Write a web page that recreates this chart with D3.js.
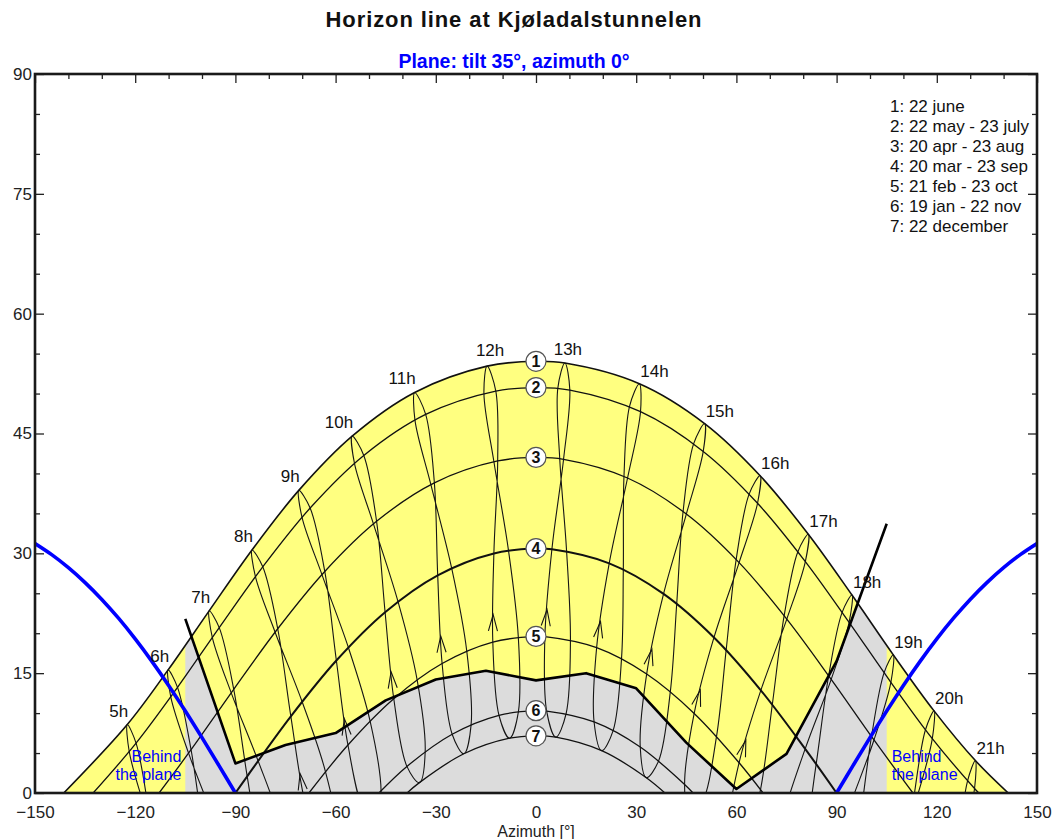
<!DOCTYPE html>
<html>
<head>
<meta charset="utf-8">
<script src="https://cdn.jsdelivr.net/npm/d3@7"></script>
<style>
body { margin: 0; background: #fff; }
text { font-family: "Liberation Sans", Arial, sans-serif; }
</style>
</head>
<body>
<div id="chart"></div>
<script>
// hours shown on the hour lines
const hours = [5, 6, 7, 8, 9, 10, 11, 12, 13, 14, 15, 16, 17, 18, 19, 20, 21];

// sun position [azimuth, elevation] for each hour 5h..21h, null = not drawn
const dec22 = [null, null, null, [-60.12, -9.90], [-47.71, -3.73], [-34.91, 1.30], [-21.61, 4.91], [-7.92, 6.86], [5.93, 6.99], [19.66, 5.30], [33.03, 1.92], [45.90, -2.93], [58.35, -8.95], null, null, null, null];
const jan19 = [null, null, [-76.56, -15.71], [-64.18, -8.53], [-51.62, -2.07], [-38.65, 3.33], [-25.10, 7.36], [-11.08, 9.73], [3.19, 10.25], [17.39, 8.89], [31.21, 5.75], [44.49, 1.07], [57.27, -4.85], [69.71, -11.67], null, null, null];
const feb21 = [null, [-95.07, -15.78], [-82.18, -8.16], [-69.39, -0.78], [-56.30, 6.01], [-42.58, 11.80], [-28.11, 16.21], [-12.93, 18.89], [2.66, 19.57], [18.15, 18.19], [33.13, 14.89], [47.36, 9.96], [60.81, 3.79], [73.76, -3.24], [86.53, -10.75], null, null];
const mar20 = [[-112.68, -12.85], [-99.41, -5.52], [-86.47, 2.09], [-73.40, 9.59], [-59.77, 16.58], [-45.18, 22.63], [-29.43, 27.25], [-12.61, 29.99], [4.76, 30.51], [21.92, 28.75], [38.19, 24.93], [53.29, 19.47], [67.32, 12.85], [80.59, 5.52], [93.53, -2.09], [106.60, -9.59], null];
const apr20 = [[-116.13, -1.76], [-103.28, 5.42], [-90.50, 12.98], [-77.33, 20.56], [-63.24, 27.73], [-47.73, 34.01], [-30.43, 38.82], [-11.47, 41.56], [8.25, 41.77], [27.41, 39.43], [45.01, 34.92], [60.81, 28.84], [75.09, 21.77], [88.38, 14.23], [101.19, 6.64], [114.00, -0.62], [127.19, -7.19]];
const may22 = [[-119.74, 6.24], [-107.33, 13.22], [-94.84, 20.70], [-81.81, 28.31], [-67.62, 35.67], [-51.56, 42.25], [-33.03, 47.39], [-12.03, 50.31], [10.13, 50.44], [31.29, 47.73], [50.07, 42.76], [66.33, 36.27], [80.64, 28.97], [93.74, 21.36], [106.25, 13.86], [118.65, 6.81], [131.30, 0.57]];
const jun22 = [[-122.37, 8.57], [-110.15, 15.41], [-97.86, 22.80], [-85.03, 30.42], [-71.02, 37.88], [-55.05, 44.67], [-36.33, 50.14], [-14.64, 53.43], [8.65, 53.82], [30.95, 51.23], [50.49, 46.24], [67.10, 39.72], [81.53, 32.39], [94.60, 24.78], [106.98, 17.29], [119.18, 10.28], [131.55, 4.06]];
const jul23 = [[-121.78, 5.16], [-109.35, 12.04], [-96.90, 19.46], [-84.00, 27.08], [-70.05, 34.50], [-54.35, 41.25], [-36.24, 46.68], [-15.59, 50.02], [6.52, 50.63], [27.98, 48.36], [47.18, 43.70], [63.81, 37.41], [78.40, 30.20], [91.66, 22.61], [104.23, 15.06], [116.61, 7.92], [129.21, 1.52]];
const aug23 = [[-116.89, -2.15], [-104.02, 4.99], [-91.25, 12.54], [-78.11, 20.13], [-64.09, 27.34], [-48.67, 33.68], [-31.47, 38.60], [-12.60, 41.46], [7.11, 41.83], [26.34, 39.63], [44.04, 35.23], [59.93, 29.22], [74.30, 22.20], [87.62, 14.68], [100.45, 7.07], [113.25, -0.22], [126.41, -6.83]];
const sep23 = [[-109.26, -11.04], [-96.12, -3.61], [-83.19, 4.01], [-70.02, 11.42], [-56.18, 18.22], [-41.31, 23.95], [-25.25, 28.14], [-8.23, 30.34], [9.16, 30.28], [26.14, 27.96], [42.13, 23.68], [56.93, 17.88], [70.74, 11.04], [83.88, 3.61], [96.81, -4.01], [109.98, -11.42], null];
const oct23 = [null, [-88.69, -12.03], [-75.91, -4.48], [-63.02, 2.65], [-49.67, 9.00], [-35.59, 14.16], [-20.73, 17.76], [-5.29, 19.48], [10.31, 19.15], [25.60, 16.79], [40.21, 12.65], [54.04, 7.06], [67.22, 0.42], [80.03, -6.89], [92.87, -14.50], null, null];
const nov22 = [null, null, [-71.51, -12.71], [-59.09, -5.79], [-46.39, 0.28], [-33.18, 5.16], [-19.43, 8.54], [-5.27, 10.17], [9.01, 9.92], [23.09, 7.81], [36.70, 4.01], [49.76, -1.21], [62.38, -7.54], [74.76, -14.63], null, null, null];

const yearOrder = [dec22, jan19, feb21, mar20, apr20, may22, jun22, jul23, aug23, sep23, oct23, nov22];

// date curves 1..7: noon elevation and sunrise/sunset azimuth
const curveDates = [jun22, may22, apr20, mar20, feb21, jan19, dec22];
const curveNoon = [54.04, 50.75, 42.0, 30.6, 19.6, 10.3, 7.16];
const curveRise = [141.39, 132.59, 112.85, 90, 67.98, 47.03, 38.61];
const legendLabels = ["1: 22 june", "2: 22 may - 23 july", "3: 20 apr - 23 aug", "4: 20 mar - 23 sep",
  "5: 21 feb - 23 oct", "6: 19 jan - 22 nov", "7: 22 december"];

// far horizon
const horizonAz = [-105, -90, -75, -60, -45, -30, -15, 0, 15, 30, 45, 60, 75, 90, 105];
const horizonEl = [21.8, 3.7, 6.0, 7.5, 11.6, 14.2, 15.3, 14.1, 15.0, 13.1, 6.3, 0.5, 4.9, 16.5, 33.7];

// plane horizon (tilt 35, azimuth 0), mirrored on both sides
const planeAz = [90, 95, 100, 105, 110, 115, 120, 125, 130, 135, 140, 145, 150];
const planeEl = [0, 3.49, 6.93, 10.27, 13.47, 16.48, 19.29, 21.88, 24.23, 26.34, 28.21, 29.84, 31.23];

const xTicks = [-150, -120, -90, -60, -30, 0, 30, 60, 90, 120, 150];
const yTicks = [0, 15, 30, 45, 60, 75, 90];

const W = 1056, H = 839;
const svg = d3.select("#chart").append("svg")
  .attr("width", W).attr("height", H);

const x = d3.scaleLinear().domain([-150, 150]).range([35, 1037]);
const y = d3.scaleLinear().domain([0, 90]).range([793, 74]);

svg.append("defs").append("clipPath").attr("id", "plot")
  .append("rect").attr("x", 35).attr("y", 74).attr("width", 1002).attr("height", 719);

const plot = svg.append("g").attr("clip-path", "url(#plot)");

const line = d3.line().x(d => x(d[0])).y(d => y(d[1])).curve(d3.curveCatmullRom);

// points of each date curve
function curvePoints(i) {
  const pts = curveDates[i].filter(p => p && p[1] >= 0);
  pts.push([0, curveNoon[i]], [-curveRise[i], 0], [curveRise[i], 0]);
  pts.sort((a, b) => a[0] - b[0]);
  return pts;
}

// yellow sun area under the june path
const junePts = curvePoints(0);
const area = d3.area().x(d => x(d[0])).y0(y(0)).y1(d => y(d[1])).curve(d3.curveCatmullRom);
plot.append("path").attr("d", area(junePts)).attr("fill", "#ffff80");

svg.select("defs").append("clipPath").attr("id", "sunarea")
  .append("path").attr("d", area(junePts));

// grey area under the horizon
const horizonPts = horizonAz.map((a, i) => [a, horizonEl[i]]);
const grey = [[horizonAz[0], 0]].concat(horizonPts, [[horizonAz[horizonAz.length - 1], 0]]);
plot.append("g").attr("clip-path", "url(#sunarea)")
  .append("path")
  .attr("d", d3.line().x(d => x(d[0])).y(d => y(d[1]))(grey) + "Z")
  .attr("fill", "#dcdcdc");

// hour lines
const hourG = plot.append("g").attr("fill", "none").attr("stroke", "#151515").attr("stroke-width", 1.1);
hours.forEach((h, hi) => {
  const pts = yearOrder.map(d => d[hi]);
  if (pts.every(p => p)) {
    hourG.append("path").attr("d", d3.line().x(d => x(d[0])).y(d => y(d[1])).curve(d3.curveCatmullRomClosed)(pts));
  } else {
    hourG.append("path").attr("d", line(pts.slice(1).filter(p => p)));
  }
  // arrow on the rising branch
  const a = feb21[hi], b = mar20[hi];
  if (a && b) {
    const x1 = x(a[0]), y1 = y(a[1]), x2 = x(b[0]), y2 = y(b[1]);
    const t = 0.31;
    const tx = x1 + t * (x2 - x1), ty = y1 + t * (y2 - y1);
    const ang = Math.atan2(y1 - y2, x1 - x2);
    const len = 17, spread = 0.27;
    hourG.append("path")
      .attr("d", `M${tx + len * Math.cos(ang - spread)},${ty + len * Math.sin(ang - spread)}L${tx},${ty}L${tx + len * Math.cos(ang + spread)},${ty + len * Math.sin(ang + spread)}`);
  }
});

// date curves
curveDates.forEach((d, i) => {
  plot.append("path")
    .attr("d", line(curvePoints(i)))
    .attr("fill", "none")
    .attr("stroke", "#111")
    .attr("stroke-width", i === 3 ? 2 : (i === 0 ? 1.6 : 1.3));
});

// horizon line
plot.append("path")
  .attr("d", d3.line().x(d => x(d[0])).y(d => y(d[1]))(horizonPts))
  .attr("fill", "none").attr("stroke", "#000").attr("stroke-width", 2.6)
  .attr("stroke-linejoin", "round");

// plane horizon
const planeRight = planeAz.map((a, i) => [a, planeEl[i]]);
const planeLeft = planeAz.map((a, i) => [-a, planeEl[i]]);
[planeLeft, planeRight].forEach(p => {
  plot.append("path").attr("d", line(p))
    .attr("fill", "none").attr("stroke", "#0000ff").attr("stroke-width", 3.6);
});

// behind the plane
[[x(-105) - 4, "end"], [x(105) + 5, "start"]].forEach(([tx, anchor]) => {
  ["Behind", "the plane"].forEach((s, k) => {
    svg.append("text").attr("x", tx).attr("y", 762 + k * 18)
      .attr("text-anchor", anchor).attr("fill", "#0000ff").attr("font-size", 16)
      .text(s);
  });
});

// numbered circles
curveNoon.forEach((e, i) => {
  const g = svg.append("g").attr("transform", `translate(${x(0)},${y(e)})`);
  g.append("circle").attr("r", 10).attr("fill", "#fff").attr("stroke", "#555").attr("stroke-width", 1.2);
  g.append("text").attr("text-anchor", "middle").attr("dy", "0.36em")
    .attr("font-size", 16).attr("font-weight", "bold").attr("fill", "#111").text(i + 1);
});

// hour labels above the june path
hours.forEach((h, hi) => {
  const p = jun22[hi];
  const px = x(p[0]), py = y(p[1]);
  let anchor = "start", dx = 1, dy = -7;
  if (h < 12) { anchor = "end"; dx = 1; dy = -8; }
  if (h === 12) { anchor = "middle"; dx = 3; dy = -10; }
  if (h === 13) { anchor = "middle"; dx = 3; dy = -8; }
  svg.append("text").attr("x", px + dx).attr("y", py + dy)
    .attr("text-anchor", anchor).attr("font-size", 17).attr("fill", "#111")
    .text(h + "h");
});

// legend
svg.append("g").selectAll("text").data(legendLabels).join("text")
  .attr("x", 890).attr("y", (d, i) => 111.5 + i * 20)
  .attr("font-size", 17).attr("fill", "#111").text(d => d);

// axes
const fmt = d3.format("d");
svg.append("g").attr("transform", "translate(35,0)")
  .call(d3.axisLeft(y).tickValues(yTicks).tickSize(-9).tickPadding(3).tickFormat(fmt));
svg.append("g").attr("transform", "translate(35,0)")
  .call(d3.axisLeft(y).tickValues(d3.range(5, 90, 5).filter(v => v % 15)).tickSize(-5).tickFormat(""));
svg.append("g").attr("transform", "translate(1037,0)")
  .call(d3.axisRight(y).tickValues(yTicks).tickSize(-9).tickFormat(""));
svg.append("g").attr("transform", "translate(1037,0)")
  .call(d3.axisRight(y).tickValues(d3.range(5, 90, 5).filter(v => v % 15)).tickSize(-5).tickFormat(""));
svg.append("g").attr("transform", "translate(0,74)")
  .call(d3.axisTop(x).tickValues(xTicks).tickSize(-9).tickFormat(""));
svg.append("g").attr("transform", "translate(0,74)")
  .call(d3.axisTop(x).tickValues(d3.range(-140, 150, 10).filter(v => v % 30)).tickSize(-5).tickFormat(""));
svg.append("g").attr("transform", "translate(0,793)")
  .call(d3.axisBottom(x).tickValues(xTicks).tickSize(0).tickPadding(12.5).tickFormat(fmt));

svg.selectAll(".domain").remove();
svg.selectAll(".tick line").attr("stroke", "#222").attr("stroke-width", 1.3);
svg.selectAll(".tick text").attr("font-size", 17).attr("fill", "#222")
  .attr("font-family", "'Liberation Sans', Arial, sans-serif");

svg.append("rect").attr("x", 35).attr("y", 74).attr("width", 1002).attr("height", 719)
  .attr("fill", "none").attr("stroke", "#1a1a1a").attr("stroke-width", 2.6);

// titles
svg.append("text").attr("x", 514).attr("y", 27).attr("text-anchor", "middle")
  .attr("font-size", 22).attr("font-weight", "bold").attr("letter-spacing", 0.9).attr("fill", "#111")
  .text("Horizon line at Kjøladalstunnelen");
svg.append("text").attr("x", 514).attr("y", 68).attr("text-anchor", "middle")
  .attr("font-size", 19.5).attr("font-weight", "bold").attr("fill", "#0000ff")
  .text("Plane: tilt 35°, azimuth 0°");
svg.append("text").attr("x", 536).attr("y", 836.5).attr("text-anchor", "middle")
  .attr("font-size", 16).attr("fill", "#222").text("Azimuth [°]");
</script>
</body>
</html>
